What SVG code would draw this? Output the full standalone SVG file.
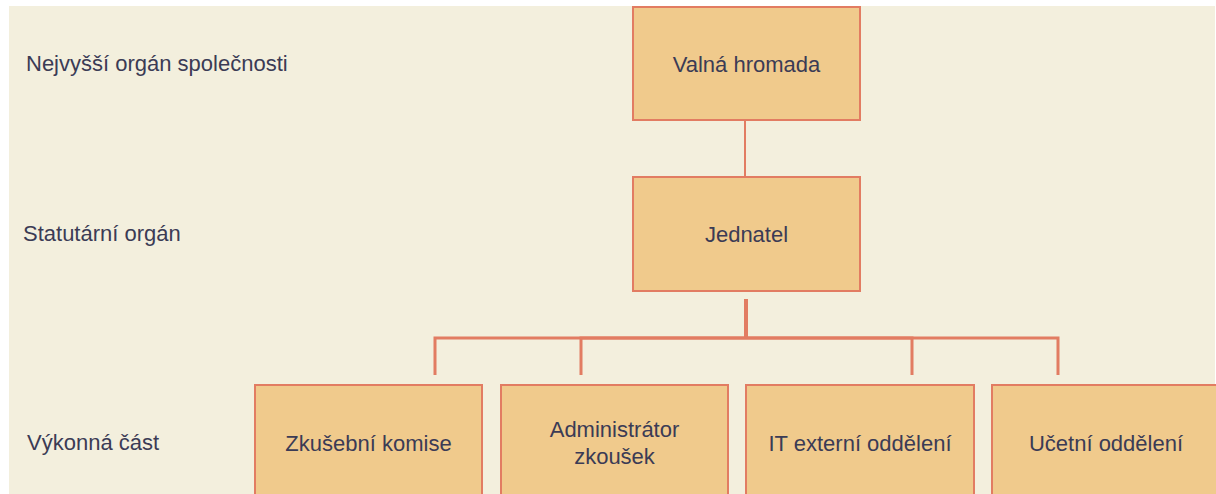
<svg xmlns="http://www.w3.org/2000/svg" width="1216" height="494" viewBox="0 0 1216 494">
<style>
.bg{fill:#f3efdd}
.box{fill:#f0ca8c;stroke:#e27c62;stroke-width:2}
.t{font-family:"Liberation Sans",Arial,sans-serif;font-size:22px;fill:#3b3b55}
.c{text-anchor:middle}
.e{fill:none;stroke:#e27c62;stroke-width:3}
</style>
<rect x="0" y="0" width="1216" height="494" fill="#ffffff"/>
<rect class="bg" x="9" y="6" width="1206" height="488"/>
<g id="labels">
<text class="t" x="26" y="71">Nejvyšší orgán společnosti</text>
<text class="t" x="23" y="241">Statutární orgán</text>
<text class="t" x="27" y="450">Výkonná část</text>
</g>
<g id="connectors">
<path class="e" style="stroke-width:2" d="M745 120V177"/>
<path class="e" style="stroke-width:4" d="M746 299V338"/>
<path class="e" d="M746 338H435V375"/>
<path class="e" d="M746 338H581V375"/>
<path class="e" d="M746 338H912V375"/>
<path class="e" d="M746 338H1058V375"/>
</g>
<g id="valna-hromada">
<rect class="box" x="633" y="7" width="227" height="113"/>
<text class="t c" x="746.5" y="72">Valná hromada</text>
</g>
<g id="jednatel">
<rect class="box" x="633" y="177" width="227" height="114"/>
<text class="t c" x="746.5" y="242">Jednatel</text>
</g>
<g id="zkusebni-komise">
<rect class="box" x="255" y="385" width="227" height="114"/>
<text class="t c" x="368.5" y="451">Zkušební komise</text>
</g>
<g id="administrator-zkousek">
<rect class="box" x="501" y="385" width="227" height="114"/>
<text class="t c" x="614.5" y="437">Administrátor</text>
<text class="t c" x="614.5" y="464">zkoušek</text>
</g>
<g id="it-externi-oddeleni">
<rect class="box" x="746" y="385" width="228" height="114"/>
<text class="t c" x="860" y="451">IT externí oddělení</text>
</g>
<g id="ucetni-oddeleni">
<rect class="box" x="992" y="385" width="228" height="114"/>
<text class="t c" x="1106" y="451">Učetní oddělení</text>
</g>
</svg>
